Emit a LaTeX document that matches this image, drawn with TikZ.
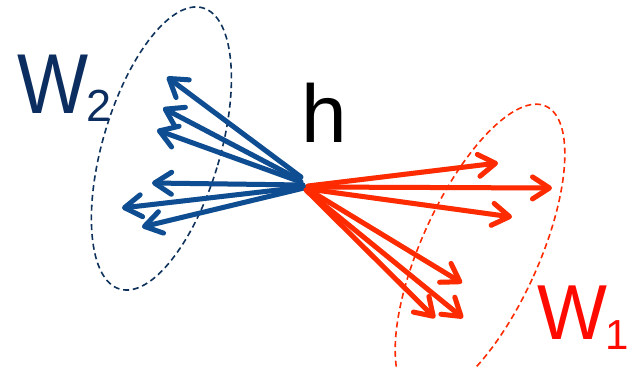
\documentclass[tikz,border=0pt]{standalone}
\usepackage{fontspec}
\setmainfont{Liberation Sans}
\usetikzlibrary{arrows.meta}
\definecolor{bluearr}{RGB}{14,77,146}
\definecolor{bluedash}{RGB}{14,50,92}
\definecolor{bluetext}{RGB}{12,45,95}
\definecolor{redarr}{RGB}{255,43,0}
\definecolor{redtext}{RGB}{255,10,0}
\tikzset{
  vec/.style={line width=5pt, line cap=round,
    -{Straight Barb[length=17pt,width=22pt,round]}},
  bvec/.style={vec, draw=bluearr},
  rvec/.style={vec, draw=redarr},
  shad/.style={vec, draw=black, draw opacity=0.10, shift={(1.5pt,-2.5pt)}},
  ell/.style={line width=1.6pt, dash pattern=on 6pt off 3.8pt},
  lbl/.style={anchor=base west, inner sep=0pt, outer sep=0pt}
}
\begin{document}
\begin{tikzpicture}[x=1pt,y=1pt]
\useasboundingbox (0,0) rectangle (631,367);
\clip (0,0) rectangle (631,367);
\fill[white] (0,0) rectangle (631,367);
% ellipses
\draw[ell, bluedash] (161.4,218.5) ellipse [x radius=58.7, y radius=146.6, rotate=-16.5];
\draw[ell, redarr] (480,115) ellipse [x radius=58.7, y radius=160, rotate=-24.3];
% coordinates: blue starts and tips
\coordinate (bs1) at (301,190); \coordinate (bt1) at (167,290);
\coordinate (bs2) at (300,187); \coordinate (bt2) at (163,259);
\coordinate (bs3) at (301,185); \coordinate (bt3) at (157,237);
\coordinate (bs4) at (303,182); \coordinate (bt4) at (152,184);
\coordinate (bs5) at (304,180); \coordinate (bt5) at (122,159);
\coordinate (bs6) at (304,179); \coordinate (bt6) at (142,140);
% red
\coordinate (rs1) at (308,181); \coordinate (rt1) at (498,204);
\coordinate (rs2) at (308,180); \coordinate (rt2) at (552,179);
\coordinate (rs3) at (308,178); \coordinate (rt3) at (512,150);
\coordinate (rs4) at (309,177); \coordinate (rt4) at (462,84);
\coordinate (rs5) at (307,176); \coordinate (rt5) at (463,49);
\coordinate (rs6) at (306,177); \coordinate (rt6) at (435,49);
% shadows
\foreach \i in {1,...,6} {\draw[shad] (bs\i) -- (bt\i);}
\foreach \i in {1,...,6} {\draw[shad] (rs\i) -- (rt\i);}
% blue arrows
\foreach \i in {1,...,6} {\draw[bvec] (bs\i) -- (bt\i);}
% red arrows
\foreach \i in {1,...,6} {\draw[rvec] (rs\i) -- (rt\i);}
% labels
\node[lbl, text=bluetext] (W2) at (17,253)
  {\fontsize{85}{85}\selectfont\scalebox{0.886}[1]{W}\hspace{-1.6pt}\raisebox{-8pt}{\fontsize{45}{45}\selectfont 2}};
\node[lbl, text=black, font=\fontsize{82}{82}\selectfont] (h) at (301.6,224) {h};
\node[lbl, text=redtext] (W1) at (537,28)
  {\fontsize{78}{78}\selectfont\scalebox{0.95}[1]{W}\hspace{-1.5pt}\raisebox{-10pt}{\fontsize{42}{42}\selectfont\makebox[0.38em][l]{1}}};
\end{tikzpicture}
\end{document}
